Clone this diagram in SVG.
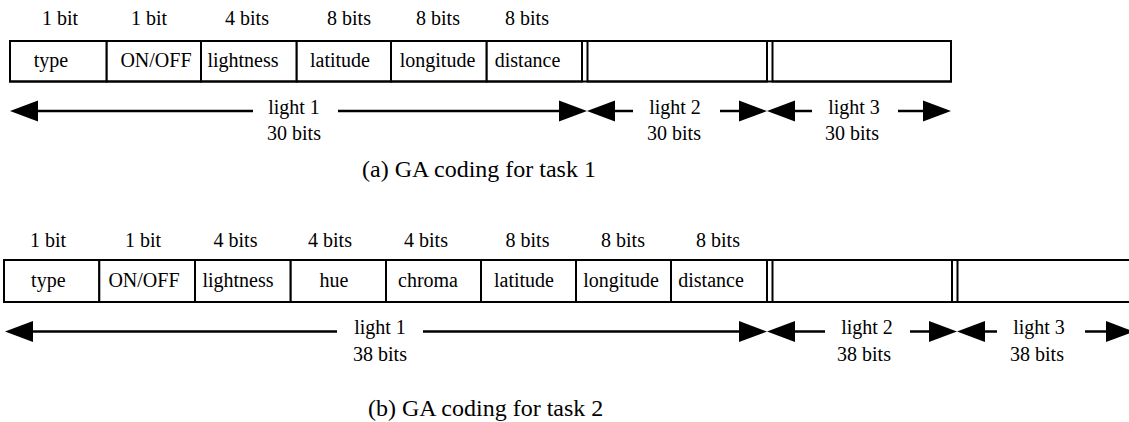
<svg xmlns="http://www.w3.org/2000/svg" width="1129" height="422" viewBox="0 0 1129 422">
  <style>
    text { font-family: "Liberation Serif", "DejaVu Serif", serif; font-size: 20px; fill: #000; text-anchor: middle; }
    .cap { font-size: 24px; text-anchor: start; }
    .cell { fill: #fff; stroke: #000; stroke-width: 2; }
    .frame { fill: none; stroke: #000; stroke-width: 2; }
    .thin { stroke: #000; stroke-width: 1.5; }
    .span { stroke: #000; stroke-width: 2.5; fill: none; }
  </style>
  <defs>
    <marker id="head" markerUnits="userSpaceOnUse" markerWidth="30" markerHeight="22" refX="0" refY="10.5" orient="auto-start-reverse" overflow="visible">
      <path d="M0,0 L28,10.5 L0,21 Z" fill="#000"/>
    </marker>
  </defs>
  <rect width="1129" height="422" fill="#fff"/>

  <!-- Task 1 chromosome -->
  <g id="task1-sizes">
    <text x="60" y="25">1 bit</text>
    <text x="149" y="25">1 bit</text>
    <text x="247" y="25">4 bits</text>
    <text x="349" y="25">8 bits</text>
    <text x="438" y="25">8 bits</text>
    <text x="527" y="25">8 bits</text>
  </g>
  <g id="a-type"><rect class="cell" x="10" y="41" width="96.7" height="40.5"/><text x="51" y="67">type</text></g>
  <g id="a-onoff"><rect class="cell" x="106.7" y="41" width="94.3" height="40.5"/><text x="156" y="67">ON/OFF</text></g>
  <g id="a-lightness"><rect class="cell" x="201" y="41" width="95.7" height="40.5"/><text x="243" y="67">lightness</text></g>
  <g id="a-latitude"><rect class="cell" x="296.7" y="41" width="94.3" height="40.5"/><text x="340" y="67">latitude</text></g>
  <g id="a-longitude"><rect class="cell" x="391" y="41" width="95.7" height="40.5"/><text x="437.5" y="67">longitude</text></g>
  <g id="a-distance"><rect class="cell" x="486.7" y="41" width="95.3" height="40.5"/><text x="527.5" y="67">distance</text></g>
  <g id="a-light2"><rect class="cell" x="587.5" y="41" width="179.5" height="40.5"/><line class="thin" x1="582" y1="41" x2="582" y2="81.5"/></g>
  <g id="a-light3"><rect class="cell" x="772.5" y="41" width="178.5" height="40.5"/><line class="thin" x1="767" y1="41" x2="767" y2="81.5"/></g>
  <rect class="frame" x="10" y="41" width="941" height="40.5"/>

  <g id="task1-spans">
    <text x="294" y="113.5">light 1</text>
    <text x="294" y="140">30 bits</text>
    <text x="675" y="113.5">light 2</text>
    <text x="674" y="140">30 bits</text>
    <text x="854" y="113.5">light 3</text>
    <text x="852" y="140">30 bits</text>
  </g>

  <text class="cap" x="362" y="177">(a) GA coding for task 1</text>

  <!-- Task 2 chromosome -->
  <g id="task2-sizes">
    <text x="48" y="247">1 bit</text>
    <text x="143" y="247">1 bit</text>
    <text x="235.5" y="247">4 bits</text>
    <text x="330" y="247">4 bits</text>
    <text x="426" y="247">4 bits</text>
    <text x="527.5" y="247">8 bits</text>
    <text x="623" y="247">8 bits</text>
    <text x="718" y="247">8 bits</text>
  </g>
  <g id="b-type"><rect class="cell" x="4" y="260" width="95.3" height="42"/><text x="48.3" y="287">type</text></g>
  <g id="b-onoff"><rect class="cell" x="99.3" y="260" width="95.7" height="42"/><text x="144" y="287">ON/OFF</text></g>
  <g id="b-lightness"><rect class="cell" x="195" y="260" width="95.7" height="42"/><text x="238" y="287">lightness</text></g>
  <g id="b-hue"><rect class="cell" x="290.7" y="260" width="95.3" height="42"/><text x="334" y="287">hue</text></g>
  <g id="b-chroma"><rect class="cell" x="386" y="260" width="95" height="42"/><text x="428" y="287">chroma</text></g>
  <g id="b-latitude"><rect class="cell" x="481" y="260" width="95" height="42"/><text x="524" y="287">latitude</text></g>
  <g id="b-longitude"><rect class="cell" x="576" y="260" width="95" height="42"/><text x="621" y="287">longitude</text></g>
  <g id="b-distance"><rect class="cell" x="671" y="260" width="96" height="42"/><text x="711" y="287">distance</text></g>
  <g id="b-light2"><rect class="cell" x="772.5" y="260" width="179.5" height="42"/><line class="thin" x1="767" y1="260" x2="767" y2="302"/></g>
  <g id="b-light3"><rect class="cell" x="957.5" y="260" width="200" height="42"/><line class="thin" x1="952" y1="260" x2="952" y2="302"/></g>
  <rect class="frame" x="4" y="260" width="1153.5" height="42"/>

  <g id="task2-spans">
    <text x="380" y="334">light 1</text>
    <text x="380" y="361">38 bits</text>
    <text x="867" y="334">light 2</text>
    <text x="864" y="361">38 bits</text>
    <text x="1039" y="334">light 3</text>
    <text x="1037" y="361">38 bits</text>
  </g>

  <text class="cap" x="368" y="416">(b) GA coding for task 2</text>

  <!-- span arrows -->
  <g id="connectors">
    <line class="span" x1="38" y1="111" x2="253" y2="111" marker-start="url(#head)"/>
    <line class="span" x1="338" y1="111" x2="559" y2="111" marker-end="url(#head)"/>
    <line class="span" x1="615" y1="111" x2="633" y2="111" marker-start="url(#head)"/>
    <line class="span" x1="720" y1="111" x2="739" y2="111" marker-end="url(#head)"/>
    <line class="span" x1="795" y1="111" x2="812" y2="111" marker-start="url(#head)"/>
    <line class="span" x1="898" y1="111" x2="923" y2="111" marker-end="url(#head)"/>

    <line class="span" x1="33" y1="331.5" x2="337" y2="331.5" marker-start="url(#head)"/>
    <line class="span" x1="423" y1="331.5" x2="739" y2="331.5" marker-end="url(#head)"/>
    <line class="span" x1="795" y1="331.5" x2="825" y2="331.5" marker-start="url(#head)"/>
    <line class="span" x1="910" y1="331.5" x2="929" y2="331.5" marker-end="url(#head)"/>
    <line class="span" x1="985" y1="331.5" x2="997" y2="331.5" marker-start="url(#head)"/>
    <line class="span" x1="1085" y1="331.5" x2="1106" y2="331.5" marker-end="url(#head)"/>
  </g>
</svg>
